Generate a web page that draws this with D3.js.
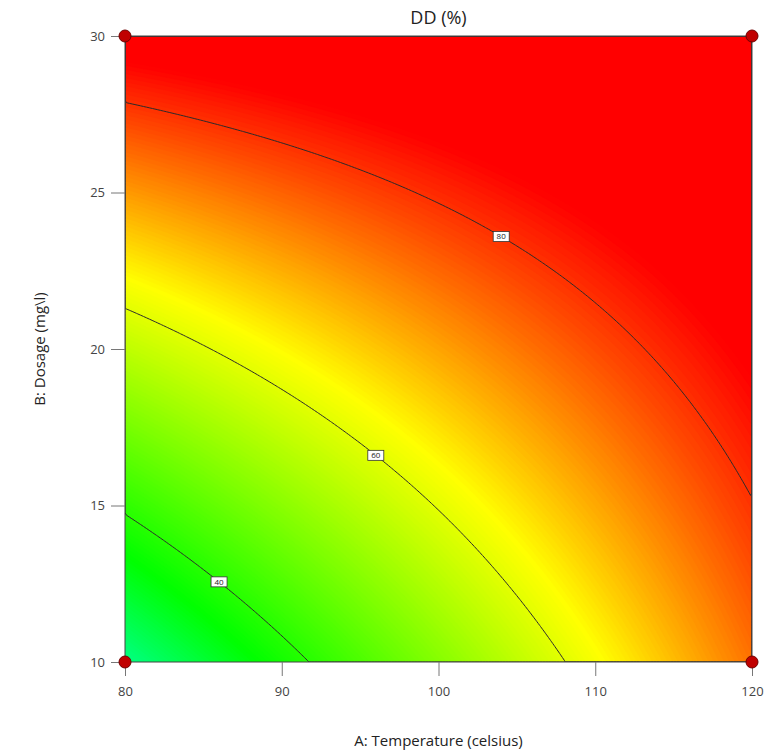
<!DOCTYPE html>
<html>
<head>
<meta charset="utf-8">
<script src="https://cdn.jsdelivr.net/npm/d3@7"></script>
<style>
  body { margin: 0; background: #fff; }
  svg text { font-family: "Open Sans", "Noto Sans", sans-serif; }
</style>
</head>
<body>
<div id="chart"></div>
<script>
// Fitted response surface in coded units: a = (A - 100) / 20, b = (B - 20) / 10
// DD = b0 + bA*a + bB*b + bAB*a*b + bAA*a^2 + bBB*b^2
const modelTerms = ['b0', 'A', 'B', 'AB', 'A2', 'B2'];
const modelCoefs = [70.5, 14.45, 20.4, -10.0, 0, 0];

const xTicks = [80, 90, 100, 110, 120];
const yTicks = [10, 15, 20, 25, 30];
const contourLevels = [40, 60, 80];
const labelTemps = [86, 96, 104];   // where each contour label sits along A

// design points (corners of the factorial)
const designTemps = [80, 120, 80, 120];
const designDosages = [10, 10, 30, 30];

const width = 767;
const height = 756;
const margin = { top: 36, right: 15, bottom: 94, left: 125 };

const svg = d3.select('#chart')
  .append('svg')
  .attr('width', width)
  .attr('height', height);

const x = d3.scaleLinear().domain([80, 120]).range([margin.left, width - margin.right]);
const y = d3.scaleLinear().domain([10, 30]).range([height - margin.bottom, margin.top]);

const coef = {};
modelTerms.forEach((t, i) => coef[t] = modelCoefs[i]);
function dd(A, B) {
  const a = (A - 100) / 20, b = (B - 20) / 10;
  return coef.b0 + coef.A * a + coef.B * b + coef.AB * a * b + coef.A2 * a * a + coef.B2 * b * b;
}

// colour ramp similar to Design-Expert
const color = d3.scaleLinear()
  .domain([16, 36, 63, 84])
  .range(['#00ffff', '#00ff00', '#ffff00', '#ff0000'])
  .clamp(true);

// sample the surface on a grid (cell centres)
const nx = 220, ny = 220;
const gx = d3.scaleLinear().domain([0, nx]).range([80, 120]);
const gy = d3.scaleLinear().domain([0, ny]).range([30, 10]);
const values = new Array(nx * ny);
for (let j = 0; j < ny; j++) {
  for (let i = 0; i < nx; i++) {
    values[i + j * nx] = dd(gx(i + 0.5), gy(j + 0.5));
  }
}

const proj = d3.geoTransform({
  point: function (px, py) { this.stream.point(x(gx(px)), y(gy(py))); }
});
const path = d3.geoPath(proj);

svg.append('clipPath').attr('id', 'plot-clip')
  .append('rect')
  .attr('x', x(80)).attr('y', y(30))
  .attr('width', x(120) - x(80)).attr('height', y(10) - y(30));

const plot = svg.append('g').attr('clip-path', 'url(#plot-clip)');

// filled colour bands
const step = 0.4;
const bandThresholds = d3.range(0, 110, step);
plot.append('g')
  .selectAll('path')
  .data(d3.contours().size([nx, ny]).thresholds(bandThresholds)(values))
  .enter()
  .append('path')
  .attr('d', path)
  .attr('fill', d => color(d.value + step / 2))
  .attr('stroke', d => color(d.value + step / 2))
  .attr('stroke-width', 0.6);

// contour lines
plot.append('g')
  .selectAll('path')
  .data(d3.contours().size([nx, ny]).thresholds(contourLevels)(values))
  .enter()
  .append('path')
  .attr('d', path)
  .attr('fill', 'none')
  .attr('stroke', '#2b2b2b')
  .attr('stroke-width', 1);

// plot border
svg.append('rect')
  .attr('x', x(80)).attr('y', y(30))
  .attr('width', x(120) - x(80)).attr('height', y(10) - y(30))
  .attr('fill', 'none')
  .attr('stroke', '#444')
  .attr('stroke-width', 1);

// contour labels: find dosage on each level at the chosen temperature
function solveB(A, level) {
  let lo = 10, hi = 30;
  for (let k = 0; k < 50; k++) {
    const mid = (lo + hi) / 2;
    if (dd(A, mid) < level) lo = mid; else hi = mid;
  }
  return (lo + hi) / 2;
}
const labels = svg.append('g')
  .selectAll('g')
  .data(contourLevels.map((lv, i) => ({ level: lv, A: labelTemps[i], B: solveB(labelTemps[i], lv) })))
  .enter()
  .append('g')
  .attr('transform', d => `translate(${x(d.A)},${y(d.B)})`);
labels.append('rect')
  .attr('x', -8).attr('y', -5)
  .attr('width', 16).attr('height', 10)
  .attr('fill', '#fff')
  .attr('stroke', '#333')
  .attr('stroke-width', 0.8);
labels.append('text')
  .attr('text-anchor', 'middle')
  .attr('dy', '0.35em')
  .attr('font-size', 8)
  .attr('fill', '#222')
  .text(d => d.level);

// axes
const xAxis = svg.append('g')
  .attr('transform', `translate(0,${y(10)})`)
  .call(d3.axisBottom(x).tickValues(xTicks).tickSize(14).tickPadding(11));
const yAxis = svg.append('g')
  .attr('transform', `translate(${x(80)},0)`)
  .call(d3.axisLeft(y).tickValues(yTicks).tickSize(14).tickPadding(6));
[xAxis, yAxis].forEach(ax => {
  ax.select('.domain').remove();
  ax.selectAll('.tick line').attr('stroke', '#777');
  ax.selectAll('.tick text').attr('fill', '#444').attr('font-size', 13)
    .style('font-family', '"Open Sans", "Noto Sans", sans-serif');
});

// design points
svg.append('g')
  .selectAll('circle')
  .data(designTemps.map((t, i) => ({ A: t, B: designDosages[i] })))
  .enter()
  .append('circle')
  .attr('cx', d => x(d.A))
  .attr('cy', d => y(d.B))
  .attr('r', 6)
  .attr('fill', '#c00000')
  .attr('stroke', '#700000')
  .attr('stroke-width', 1);

// titles
svg.append('text')
  .attr('x', (x(80) + x(120)) / 2)
  .attr('y', 24)
  .attr('text-anchor', 'middle')
  .attr('font-size', 18)
  .attr('fill', '#222')
  .text('DD (%)');

svg.append('text')
  .attr('x', (x(80) + x(120)) / 2)
  .attr('y', 746)
  .attr('text-anchor', 'middle')
  .attr('font-size', 15)
  .attr('fill', '#222')
  .text('A: Temperature (celsius)');

svg.append('text')
  .attr('transform', `translate(45,${(y(10) + y(30)) / 2}) rotate(-90)`)
  .attr('text-anchor', 'middle')
  .attr('font-size', 15)
  .attr('fill', '#222')
  .text('B: Dosage (mg\\l)');
</script>
</body>
</html>
